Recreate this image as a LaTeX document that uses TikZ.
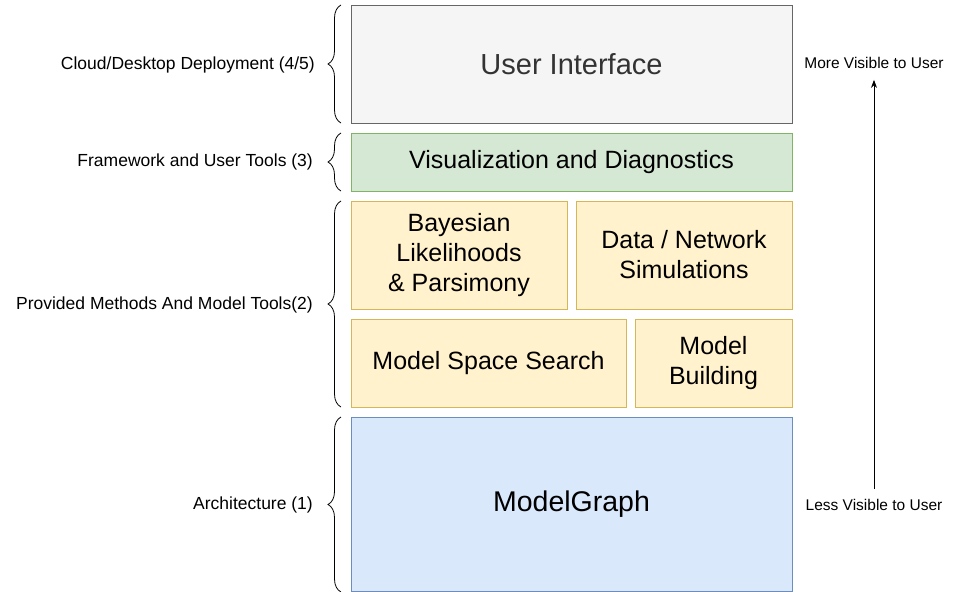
\documentclass[tikz,border=0pt]{standalone}
\usepackage{fontspec}
\setmainfont{Liberation Sans}
\usetikzlibrary{decorations.pathreplacing,arrows.meta}
\definecolor{uifill}{HTML}{F5F5F5}
\definecolor{uidraw}{HTML}{666666}
\definecolor{uitext}{HTML}{333333}
\definecolor{gfill}{HTML}{D5E8D4}
\definecolor{gdraw}{HTML}{82B366}
\definecolor{yfill}{HTML}{FFF2CC}
\definecolor{ydraw}{HTML}{D6B656}
\definecolor{bfill}{HTML}{DAE8FC}
\definecolor{bdraw}{HTML}{6C8EBF}
\begin{document}
\begin{tikzpicture}[x=1pt,y=-1pt,
  box/.style={draw, line width=0.8pt, rectangle, inner sep=0pt, align=center},
  uibox/.style={box, fill=uifill, draw=uidraw, text=uitext, font=\fontsize{29}{34}\selectfont},
  gbox/.style={box, fill=gfill, draw=gdraw, font=\fontsize{25}{30}\selectfont},
  ybox/.style={box, fill=yfill, draw=ydraw, font=\fontsize{25}{30}\selectfont},
  bbox/.style={box, fill=bfill, draw=bdraw, font=\fontsize{28.5}{34}\selectfont},
  leftlabel/.style={anchor=east, inner sep=0pt, font=\fontsize{17.5}{21}\selectfont},
  rightlabel/.style={inner sep=0pt, font=\fontsize{15.5}{19}\selectfont},
  bracestyle/.style={draw, line width=0.8pt, decorate, decoration={brace, amplitude=13pt}},
  uparrow/.style={draw, line width=0.8pt, -{Stealth[length=8pt,width=6pt]}}
]
\useasboundingbox (0,0) rectangle (959,592);

% boxes
\node[uibox, minimum width=441pt, minimum height=118pt] (ui) at (571.5,64) {User Interface};
\node[gbox, minimum width=441pt, minimum height=58pt] (viz) at (571.5,162) {Visualization and Diagnostics};
\node[ybox, minimum width=216pt, minimum height=108pt] (bayes) at (459,255) {Bayesian\\Likelihoods\\\& Parsimony};
\node[ybox, minimum width=216pt, minimum height=108pt] (data) at (684,255) {Data / Network\\Simulations};
\node[ybox, minimum width=275pt, minimum height=88pt] (mss) at (488.5,363) {Model Space Search};
\node[ybox, minimum width=157pt, minimum height=88pt] (mb) at (713.5,363) {Model\\Building};
\node[bbox, minimum width=441pt, minimum height=174.5pt] (mg) at (571.5,504.25) {ModelGraph};

% braces
\draw[bracestyle] (341,123) -- (341,5);
\draw[bracestyle] (341,191) -- (341,133);
\draw[bracestyle] (341,407) -- (341,201);
\draw[bracestyle] (341,592) -- (341,417);

% left labels
\node[leftlabel] (l4) at (315,65) {Cloud/Desktop Deployment (4/5)};
\node[leftlabel] (l3) at (313,162) {Framework and User Tools (3)};
\node[leftlabel] (l2) at (313,305) {Provided Methods And Model Tools(2)};
\node[leftlabel] (l1) at (313,505) {Architecture (1)};

% right labels and arrow
\node[rightlabel] (more) at (874,63) {More Visible to User};
\node[rightlabel] (less) at (874,505) {Less Visible to User};
\draw[uparrow, shorten <=10pt, shorten >=11pt] (less) -- (more);
\end{tikzpicture}
\end{document}
